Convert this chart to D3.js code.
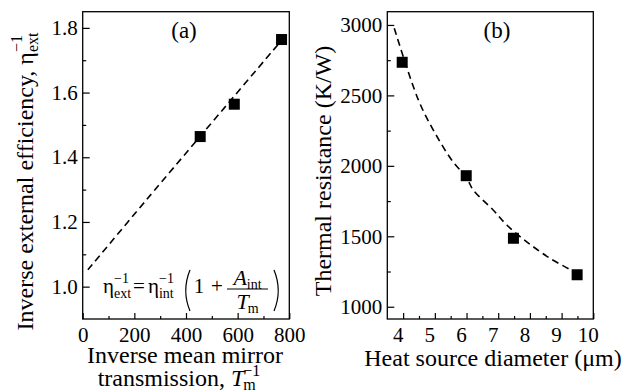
<!DOCTYPE html>
<html>
<head>
<meta charset="utf-8">
<script src="https://cdn.jsdelivr.net/npm/d3@7"></script>
<style>
  html, body { margin: 0; padding: 0; background: #fff; }
  svg { display: block; }
  svg text { font-family: "Liberation Serif", "DejaVu Serif", serif !important; fill: #000; }
</style>
</head>
<body>
<svg id="chart" width="633" height="392" font-family="Liberation Serif, serif"></svg>
<script>
// ---- data ----
// (a) inverse external efficiency vs inverse mirror transmission
const invTransmission = [455, 587, 770];
const invEfficiency   = [1.464, 1.564, 1.764];
// dashed linear fit (a)
const fitA_x = [20, 247.5, 775];
const fitA_y = [1.052, 1.269, 1.766];
const ticksA_x = [0, 200, 400, 600, 800];
const minorA_x = [100, 300, 500, 700];
const ticksA_y = [1.0, 1.2, 1.4, 1.6, 1.8];
const minorA_y = [1.1, 1.3, 1.5, 1.7];

// (b) thermal resistance vs heat source diameter
const diameter   = [3.97, 5.99, 7.48, 9.49];
const resistance = [2735, 1930, 1486, 1227];
// dashed fit curve (b)
const fitB_x = [3.72, 4.48, 5.01, 5.53, 6.01, 6.21, 6.84, 7.27, 7.90, 8.63, 9.37, 9.58];
const fitB_y = [2977, 2468, 2231, 2042, 1912, 1829, 1687, 1580, 1461, 1344, 1248, 1202];
const ticksB_x = [4, 5, 6, 7, 8, 9, 10];
const minorB_x = [4.5, 5.5, 6.5, 7.5, 8.5, 9.5];
const ticksB_y = [1000, 1500, 2000, 2500, 3000];
const minorB_y = [1250, 1750, 2250, 2750];

// ---- setup ----
const svg = d3.select("#chart");
const FS = 21;      // tick labels
const TS = 24;      // axis titles
const TSUB = 16;    // title sub/superscripts

// lay out runs of text (with sub/superscripts) left to right; returns width
function runs(parent, items) {
  let x = 0, stackStart = 0, stackMax = 0;
  items.forEach(it => {
    let start;
    if (it.stack) { start = stackStart; } else { start = x; stackStart = x; }
    const t = parent.append("text")
      .attr("x", start).attr("y", it.shift || 0)
      .attr("font-size", it.size || FS)
      .attr("font-style", it.italic ? "italic" : null)
      .attr("xml:space", "preserve")
      .text(it.t);
    const w = t.node().getComputedTextLength() + (it.extra || 0);
    if (it.stack) { stackMax = Math.max(stackMax, start + w); x = stackMax; }
    else { stackMax = start + w; x = start + w; }
  });
  return x;
}

function panel(cfg) {
  const x = d3.scaleLinear().domain(cfg.xDomain).range(cfg.xRange);
  const y = d3.scaleLinear().domain(cfg.yDomain).range(cfg.yRange);
  const g = svg.append("g");
  const [x0, x1] = cfg.xRange, [y0, y1] = cfg.yRange;

  // minor ticks
  g.append("g").attr("transform", `translate(0,${y0})`)
    .call(d3.axisBottom(x).tickValues(cfg.minorX).tickSize(-3).tickFormat(""))
    .call(s => s.select(".domain").remove());
  g.append("g").attr("transform", `translate(${x0},0)`)
    .call(d3.axisLeft(y).tickValues(cfg.minorY).tickSize(-3.5).tickFormat(""))
    .call(s => s.select(".domain").remove());

  // major ticks with labels
  const ax = g.append("g").attr("transform", `translate(0,${y0})`)
    .call(d3.axisBottom(x).tickValues(cfg.ticksX).tickSize(-6).tickPadding(8).tickFormat(cfg.fmtX))
    .call(s => s.select(".domain").remove());
  ax.selectAll("text").attr("font-size", FS).attr("dx", cfg.labelDx || 0);
  const ay = g.append("g").attr("transform", `translate(${x0},0)`)
    .call(d3.axisLeft(y).tickValues(cfg.ticksY).tickSize(-7).tickPadding(5).tickFormat(cfg.fmtY))
    .call(s => s.select(".domain").remove());
  ay.selectAll("text").attr("font-size", FS);
  g.selectAll("g").attr("font-family", null).attr("font-size", null);
  g.selectAll(".tick line").attr("stroke", "#000").attr("stroke-width", 1.2);

  // frame
  g.append("rect").attr("x", x0).attr("y", y1).attr("width", x1 - x0).attr("height", y0 - y1)
    .attr("fill", "none").attr("stroke", "#000").attr("stroke-width", 1.3);

  // dashed fit
  const pts = cfg.fitX.map((v, i) => [v, cfg.fitY[i]]);
  g.append("path").datum(pts)
    .attr("d", d3.line().x(d => x(d[0])).y(d => y(d[1])).curve(d3.curveCatmullRom))
    .attr("fill", "none").attr("stroke", "#000").attr("stroke-width", 1.6)
    .attr("stroke-dasharray", "7,4.5");

  // square markers
  const S = 11;
  g.selectAll("rect.pt").data(cfg.px.map((v, i) => [v, cfg.py[i]])).join("rect")
    .attr("class", "pt")
    .attr("x", d => x(d[0]) - S / 2).attr("y", d => y(d[1]) - S / 2)
    .attr("width", S).attr("height", S).attr("fill", "#000");

  // panel letter
  g.append("text").attr("x", cfg.letterX).attr("y", 38).attr("text-anchor", "middle")
    .attr("font-size", 23).text(cfg.letter);
  return { x, y, g };
}

panel({
  xDomain: [0, 800], xRange: [82.7, 289.3],
  yDomain: [0.9, 1.85], yRange: [319, 11.7],
  ticksX: ticksA_x, minorX: minorA_x, ticksY: ticksA_y, minorY: minorA_y,
  fmtX: d3.format("d"), fmtY: d3.format(".1f"),
  fitX: fitA_x, fitY: fitA_y, px: invTransmission, py: invEfficiency,
  letter: "(a)", letterX: 184
});

panel({
  xDomain: [3.5, 10], xRange: [387.3, 593.3],
  yDomain: [913, 3094], yRange: [319, 11.7],
  ticksX: ticksB_x, minorX: minorB_x, ticksY: ticksB_y, minorY: minorB_y,
  fmtX: d3.format("d"), fmtY: d3.format("d"), labelDx: -5.5,
  fitX: fitB_x, fitY: fitB_y, px: diameter, py: resistance,
  letter: "(b)", letterX: 497
});

// ---- axis titles, panel (a) ----
{
  const g = svg.append("g");
  const w = runs(g, [
    { t: "Inverse external efficiency, η", size: TS },
    { t: "ext", size: TSUB, shift: 5 },
    { t: "−1", size: TSUB, shift: -11, stack: true }
  ]);
  g.attr("transform", `translate(33,${181.5 + w / 2}) rotate(-90)`);
}
svg.append("text").attr("x", 185).attr("y", 362.5).attr("text-anchor", "middle")
  .attr("font-size", TS).text("Inverse mean mirror");
{
  const g = svg.append("g");
  const w = runs(g, [
    { t: "transmission, ", size: TS },
    { t: "T", size: TS, italic: true, extra: -1 },
    { t: "m", size: TSUB, shift: 4 },
    { t: "−1", size: TSUB, shift: -10, stack: true }
  ]);
  g.attr("transform", `translate(${179 - w / 2},386)`);
}

// ---- axis titles, panel (b) ----
svg.append("text").attr("text-anchor", "middle")
  .attr("transform", "translate(331,171) rotate(-90)")
  .attr("font-size", TS).text("Thermal resistance (K/W)");
svg.append("text").attr("x", 493).attr("y", 366).attr("text-anchor", "middle")
  .attr("font-size", TS).text("Heat source diameter (μm)");

// ---- equation inside panel (a) ----
{
  const EF = 21, ES = 14;
  const g = svg.append("g").attr("transform", "translate(0,293)");
  const put = (px, items) => runs(g.append("g").attr("transform", `translate(${px},0)`), items);
  put(103, [
    { t: "η", size: EF },
    { t: "ext", size: ES, shift: 5 },
    { t: "−1", size: ES, shift: -10, stack: true }
  ]);
  g.append("text").attr("x", 139).attr("y", 0).attr("text-anchor", "middle")
    .attr("font-size", EF).text("=");
  put(148, [
    { t: "η", size: EF },
    { t: "int", size: ES, shift: 5 },
    { t: "−1", size: ES, shift: -10, stack: true }
  ]);
  const paren = (px, dir) => {
    const p = d3.path();
    p.moveTo(px + 5 * dir, -23);
    p.quadraticCurveTo(px - 3.5 * dir, -2.5, px + 5 * dir, 18);
    g.append("path").attr("d", p.toString()).attr("fill", "none")
      .attr("stroke", "#000").attr("stroke-width", 1.2);
  };
  paren(185, 1);
  g.append("text").attr("x", 199).attr("y", 0).attr("text-anchor", "middle")
    .attr("font-size", EF).text("1");
  g.append("text").attr("x", 217).attr("y", 0).attr("text-anchor", "middle")
    .attr("font-size", EF).text("+");
  // fraction A_int / T_m
  const bx0 = 227, bx1 = 268;
  const num = g.append("g"), den = g.append("g");
  const wn = runs(num, [{ t: "A", size: 22, italic: true }, { t: "int", size: ES, shift: 4 }]);
  const wd = runs(den, [{ t: "T", size: 22, italic: true, extra: -1 }, { t: "m", size: ES, shift: 4 }]);
  num.attr("transform", `translate(${(bx0 + bx1 - wn) / 2},-8)`);
  den.attr("transform", `translate(${(bx0 + bx1 - wd) / 2},16)`);
  g.append("line").attr("x1", bx0).attr("x2", bx1).attr("y1", -4).attr("y2", -4)
    .attr("stroke", "#000").attr("stroke-width", 1);
  paren(279, -1);
}
</script>
</body>
</html>
